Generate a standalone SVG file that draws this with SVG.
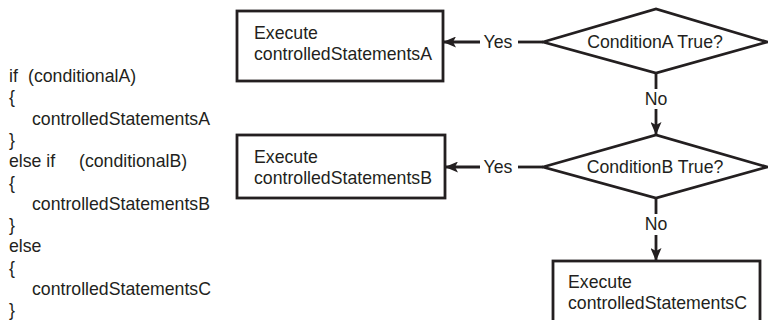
<svg xmlns="http://www.w3.org/2000/svg" width="768" height="320" viewBox="0 0 768 320">
<defs>
<marker id="arr" viewBox="0 0 13 11" refX="12" refY="5.5" markerWidth="13" markerHeight="11" markerUnits="userSpaceOnUse" orient="auto">
<path d="M0,0 L13,5.5 L0,11 L3,5.5 Z" fill="#231f20"/>
</marker>
<style>
text{font-family:"Liberation Sans",Arial,sans-serif;font-size:17.7px;fill:#231f20}
.box{fill:#fff;stroke:#231f20;stroke-width:2.8}
.dia{fill:#fff;stroke:#231f20;stroke-width:2.8;stroke-linejoin:miter}
.ln{fill:none;stroke:#231f20;stroke-width:2.8}
.mid{text-anchor:middle}
</style>
</defs>
<rect width="768" height="320" fill="#fff"/>
<g id="code">
<text x="9" y="82">if</text><text x="28" y="82">(conditionalA)</text>
<text x="9" y="103.3">{</text>
<text x="32" y="124.6">controlledStatementsA</text>
<text x="9" y="145.9">}</text>
<text x="9" y="167.2">else if</text><text x="79" y="167.2">(conditionalB)</text>
<text x="9" y="188.5">{</text>
<text x="32" y="209.8">controlledStatementsB</text>
<text x="9" y="231.1">}</text>
<text x="9" y="252.4">else</text>
<text x="9" y="273.7">{</text>
<text x="32" y="295">controlledStatementsC</text>
<text x="9" y="315.5">}</text>
</g>
<g id="connectors">
<line class="ln" x1="543" y1="42" x2="518" y2="42"/>
<line class="ln" x1="480" y1="42" x2="444" y2="42" marker-end="url(#arr)"/>
<text class="mid" x="498" y="48">Yes</text>
<line class="ln" x1="543" y1="167" x2="518" y2="167"/>
<line class="ln" x1="480" y1="167" x2="446" y2="167" marker-end="url(#arr)"/>
<text class="mid" x="498" y="173">Yes</text>
<line class="ln" x1="656" y1="73" x2="656" y2="89"/>
<text class="mid" x="656" y="105">No</text>
<line class="ln" x1="656" y1="109" x2="656" y2="134" marker-end="url(#arr)"/>
<line class="ln" x1="656" y1="198" x2="656" y2="214"/>
<text class="mid" x="656" y="230">No</text>
<line class="ln" x1="656" y1="235" x2="656" y2="260" marker-end="url(#arr)"/>
</g>
<g id="boxA">
<rect class="box" x="237" y="11" width="206" height="70"/>
<text x="254" y="39">Execute</text>
<text x="254" y="60">controlledStatementsA</text>
</g>
<g id="condA">
<polygon class="dia" points="543,42 656,9 767,42 656,73"/>
<text class="mid" x="655" y="48">ConditionA True?</text>
</g>
<g id="boxB">
<rect class="box" x="237" y="135" width="208" height="63"/>
<text x="254" y="163">Execute</text>
<text x="254" y="184">controlledStatementsB</text>
</g>
<g id="condB">
<polygon class="dia" points="543,167 656,135 767,167 656,198"/>
<text class="mid" x="655" y="173">ConditionB True?</text>
</g>
<g id="boxC">
<rect class="box" x="553" y="261" width="207" height="72"/>
<text x="568" y="288">Execute</text>
<text x="568" y="309">controlledStatementsC</text>
</g>
</svg>
